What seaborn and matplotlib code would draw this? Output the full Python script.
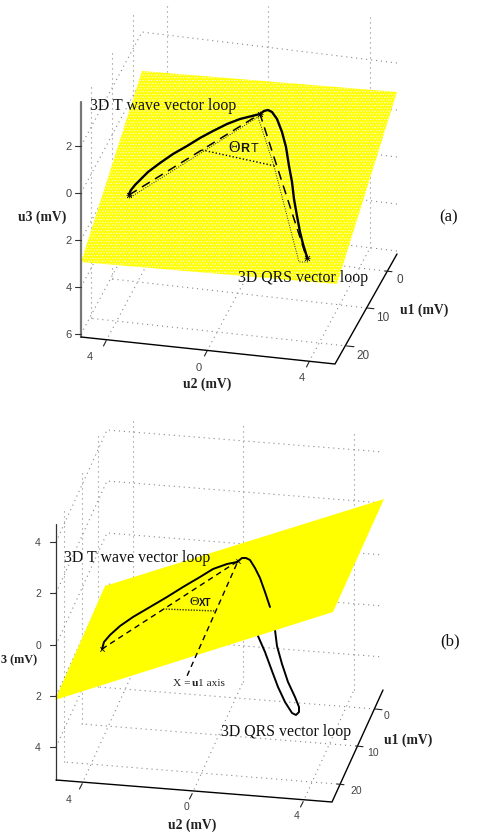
import matplotlib
matplotlib.use("Agg")
import matplotlib.pyplot as plt
import seaborn as sns

sns.set_style("white")
plt.rcParams["hatch.linewidth"] = 0.5

SERIF = "Liberation Serif"
SANS = "Liberation Sans"
GRID = "#888888"

# panel a
plane_a_x = [142, 397, 337, 81]
plane_a_y = [72, 93, 285, 263]
loop_a_x = [129, 131, 135, 140, 148, 160, 173, 187, 200, 213, 227, 240, 252, 260, 264, 268, 272,
            277, 282, 286, 289, 292, 294, 297, 300, 303, 307]
loop_a_y = [195, 191, 186, 181, 173, 164, 155, 147, 139, 132, 125, 120, 117, 115, 112, 111, 113,
            120, 133, 148, 167, 183, 200, 217, 233, 245, 258]
axis_dash_a_x = [129, 260, 307]
axis_dash_a_y = [196, 115, 260]
axis_dot_a_x = [131, 258, 274, 299, 308]
axis_dot_a_y = [198, 118, 167, 263, 263]
angle_a_x = [202, 275]
angle_a_y = [151, 167]
marks_a_x = [129, 260, 307]
marks_a_y = [196, 115, 259]

# panel b
plane_b_x = [105, 384, 333, 55]
plane_b_y = [587, 500, 613, 701]
loop_b_x = [102, 104, 110, 120, 133, 150, 167, 183, 200, 213, 227, 237, 242, 246, 250, 255, 260, 265, 270]
loop_b_y = [650, 643, 636, 627, 618, 608, 598, 588, 578, 570, 565, 563, 559, 559, 561, 569, 579, 593, 608]
under_b_x = [270, 275, 277, 282, 288, 295, 299, 299, 296, 292, 285, 278, 272, 265, 258, 250]
under_b_y = [608, 631, 647, 665, 683, 698, 708, 713, 716, 714, 703, 688, 672, 653, 637, 600]
axis_dash_b_x = [102, 238, 187]
axis_dash_b_y = [650, 562, 677]
angle_b_x = [163, 216]
angle_b_y = [610, 612]
marks_b_x = [102, 238]
marks_b_y = [650, 562]

# box corners, front left / front right / back right / back left
floor_a_x = [81, 335, 397, 142]
floor_a_y = [338, 365, 255, 224]
floor_b_x = [56, 332, 383, 107]
floor_b_y = [781, 803, 691, 669]
wall_top_a = 103
wall_top_b = 525

# where the dotted uprights stop at the top
back_tops_a = [3, 7, 18]
left_tops_a = [12, 50, 87]
back_tops_b = [420, 425, 434]
left_tops_b = [433, 472, 508]

u3_labels_a = ["2", "0", "2", "4", "6"]
u3_ticks_a = [147, 194, 241, 288, 335]
u3_labels_b = ["4", "2", "0", "2", "4"]
u3_ticks_b = [543, 594, 646, 697, 748]

u2_labels = ["4", "0", "4"]
u2_ticks_a_x = [106, 207, 309]
u2_ticks_a_y = [342, 352, 363]
u2_text_a_x = [90, 199, 302]
u2_text_a_y = [357, 368, 378]
u2_ticks_b_x = [82, 192, 303]
u2_ticks_b_y = [785, 795, 803]
u2_text_b_x = [69, 186, 297]
u2_text_b_y = [800, 807, 816]

u1_labels = ["0", "10", "20"]
u1_ticks_a_x = [385, 367, 347]
u1_ticks_a_y = [272, 309, 347]
u1_text_a_x = [400, 383, 363]
u1_text_a_y = [280, 318, 356]
u1_ticks_b_x = [375, 356, 337]
u1_ticks_b_y = [710, 747, 785]
u1_text_b_x = [387, 373, 356]
u1_text_b_y = [716, 753, 791]


def line(ax, xs, ys, **kw):
    sns.lineplot(x=xs, y=ys, ax=ax, sort=False, estimator=None, legend=False, **kw)


def box_grid(ax, fl_x, fl_y, ticks3, t2x, t2y, t1x, t1y, back_tops, left_tops):
    # dotted walls and floor behind the loops
    dx = fl_x[3] - fl_x[0]
    dy = fl_y[3] - fl_y[0]
    slope = (fl_y[2] - fl_y[3]) / (fl_x[2] - fl_x[3])
    dotted = dict(color=GRID, lw=0.8, linestyle=(0, (1, 3.5)), zorder=1)
    for t in ticks3:
        # level lines on the left and back walls
        bx = fl_x[3]
        by = t + dy
        line(ax, [fl_x[0], bx, fl_x[2]], [t, by, by + slope * (fl_x[2] - bx)], **dotted)
    for x, y, top in zip(t2x, t2y, back_tops):
        # floor line and upright on the back wall
        bx = x + dx
        by = y + dy
        line(ax, [x, bx], [y, by], **dotted)
        line(ax, [bx, bx], [by, top], **dotted)
    for x, y, top in zip(t1x, t1y, left_tops):
        f = (y - fl_y[2]) / (fl_y[1] - fl_y[2])
        lx = fl_x[3] - dx * f
        ly = fl_y[3] - dy * f
        line(ax, [x, lx], [y, ly], **dotted)
        line(ax, [lx, lx], [ly, top], **dotted)


def box_axes(ax, fl_x, fl_y, wall_top, ticks3, t2x, t2y, t1x, t1y, wall_color, wall_lw):
    line(ax, [fl_x[0], fl_x[0]], [wall_top, fl_y[0]], color=wall_color, lw=wall_lw, zorder=3)
    line(ax, fl_x[:3], fl_y[:3], color="black", lw=1.0, zorder=3)
    for t in ticks3:
        line(ax, [fl_x[0] - 6, fl_x[0]], [t, t], color="#333333", lw=0.8, zorder=3)
    for x, y in zip(t2x, t2y):
        line(ax, [x, x - 2.5], [y, y + 5], color="#222222", lw=0.8, zorder=3)
    for x, y in zip(t1x, t1y):
        line(ax, [x, x + 7], [y, y + 0.7], color="#222222", lw=0.8, zorder=3)


def tick_text(ax, xs, ys, labels, size):
    for x, y, s in zip(xs, ys, labels):
        ax.text(x, y, s, family=SANS, fontsize=size, color="#444444", ha="center", va="center", zorder=6)


fig = plt.figure(figsize=(4.88, 8.37), dpi=100)
ax = fig.add_axes([0, 0, 1, 1])

# panel a
box_grid(ax, floor_a_x, floor_a_y, u3_ticks_a, u2_ticks_a_x, u2_ticks_a_y, u1_ticks_a_x, u1_ticks_a_y,
         back_tops_a, left_tops_a)
ax.fill(plane_a_x, plane_a_y, facecolor="#ffff00", edgecolor="white", hatch="......", lw=0, zorder=2)
box_axes(ax, floor_a_x, floor_a_y, wall_top_a, u3_ticks_a, u2_ticks_a_x, u2_ticks_a_y,
         u1_ticks_a_x, u1_ticks_a_y, "#777777", 1.6)
line(ax, loop_a_x, loop_a_y, color="black", lw=1.7, zorder=4)
line(ax, axis_dash_a_x, axis_dash_a_y, color="black", lw=1.1, linestyle=(0, (6, 4)), zorder=4)
line(ax, axis_dot_a_x, axis_dot_a_y, color="#222222", lw=0.7, linestyle=(0, (1, 1.5)), zorder=4)
line(ax, angle_a_x, angle_a_y, color="black", lw=1.0, linestyle=(0, (1, 1.5)), zorder=4)
ax.scatter(marks_a_x, marks_a_y, marker="x", s=12, color="black", lw=0.7, zorder=5)
ax.scatter(marks_a_x, marks_a_y, marker="+", s=24, color="black", lw=0.5, zorder=5)

tick_text(ax, [floor_a_x[0] - 12] * 5, u3_ticks_a, u3_labels_a, 8)
tick_text(ax, u2_text_a_x, u2_text_a_y, u2_labels, 8)
tick_text(ax, u1_text_a_x, u1_text_a_y, u1_labels, 8.5)

ax.text(90, 106, "3D T wave vector loop", family=SERIF, fontsize=11.4, color="#111111", va="center", zorder=6)
ax.text(238, 278, "3D QRS vector loop", family=SERIF, fontsize=11.4, color="#111111", va="center", zorder=6)
ax.text(66, 217, "u3 (mV)", family=SERIF, weight="bold", fontsize=9.8, color="#222222", ha="right", va="center")
ax.text(207, 384, "u2 (mV)", family=SERIF, weight="bold", fontsize=9.8, color="#222222", ha="center", va="center")
ax.text(424, 310, "u1 (mV)", family=SERIF, weight="bold", fontsize=9.8, color="#222222", ha="center", va="center")
ax.text(449, 217, "(a)", family=SERIF, fontsize=12, color="#111111", ha="center", va="center")
ax.text(228, 148, "\u0398", family=SERIF, fontsize=11.5, color="#111111", va="center", zorder=6)
ax.text(240, 149, "R", family=SANS, weight="bold", fontsize=9, color="#111111", va="center", zorder=6)
ax.text(251, 149, "T", family=SANS, fontsize=9, color="#111111", va="center", zorder=6)

# panel b
box_grid(ax, floor_b_x, floor_b_y, u3_ticks_b, u2_ticks_b_x, u2_ticks_b_y, u1_ticks_b_x, u1_ticks_b_y,
         back_tops_b, left_tops_b)
line(ax, under_b_x, under_b_y, color="black", lw=1.4, zorder=1.5)
ax.fill(plane_b_x, plane_b_y, color="#ffff00", lw=0, zorder=2)
box_axes(ax, floor_b_x, floor_b_y, wall_top_b, u3_ticks_b, u2_ticks_b_x, u2_ticks_b_y,
         u1_ticks_b_x, u1_ticks_b_y, "#333333", 0.9)
line(ax, loop_b_x, loop_b_y, color="black", lw=1.4, zorder=4)
line(ax, axis_dash_b_x, axis_dash_b_y, color="black", lw=1.0, linestyle=(0, (4, 3)), zorder=4)
line(ax, angle_b_x, angle_b_y, color="#333300", lw=1.0, linestyle=(0, (1, 1)), zorder=4)
ax.scatter(marks_b_x, marks_b_y, marker="x", s=10, color="black", lw=0.6, zorder=5)

tick_text(ax, [floor_b_x[0] - 18] * 5, u3_ticks_b, u3_labels_b, 7.5)
tick_text(ax, u2_text_b_x, u2_text_b_y, u2_labels, 7.5)
tick_text(ax, u1_text_b_x, u1_text_b_y, u1_labels, 7.5)

ax.text(64, 558, "3D T wave vector loop", family=SERIF, fontsize=11.4, color="#111111", va="center", zorder=6)
ax.text(221, 732, "3D QRS vector loop", family=SERIF, fontsize=11.4, color="#111111", va="center", zorder=6)
ax.text(1, 660, "3 (mV)", family=SERIF, weight="bold", fontsize=8.8, color="#222222", ha="left", va="center")
ax.text(192, 825, "u2 (mV)", family=SERIF, weight="bold", fontsize=9.8, color="#222222", ha="center", va="center")
ax.text(408, 740, "u1 (mV)", family=SERIF, weight="bold", fontsize=9.8, color="#222222", ha="center", va="center")
ax.text(450, 641, "(b)", family=SERIF, fontsize=12, color="#111111", ha="center", va="center")
ax.text(190, 602, "\u0398", family=SERIF, fontsize=9.5, color="#111111", va="center", zorder=6)
ax.text(199, 603, "XT", family=SANS, weight="bold", fontsize=7, color="#111111", va="center", zorder=6)
ax.text(173, 684, "X =", family=SERIF, fontsize=8.2, color="#222222", va="center", zorder=6)
ax.text(192, 684, "u", family=SERIF, weight="bold", fontsize=8.2, color="#222222", va="center", zorder=6)
ax.text(198, 684, "1 axis", family=SERIF, fontsize=8.2, color="#222222", va="center", zorder=6)

ax.set_xlim(0, 488)
ax.set_ylim(837, 0)
ax.axis("off")

fig.savefig("out.png", dpi=100)
